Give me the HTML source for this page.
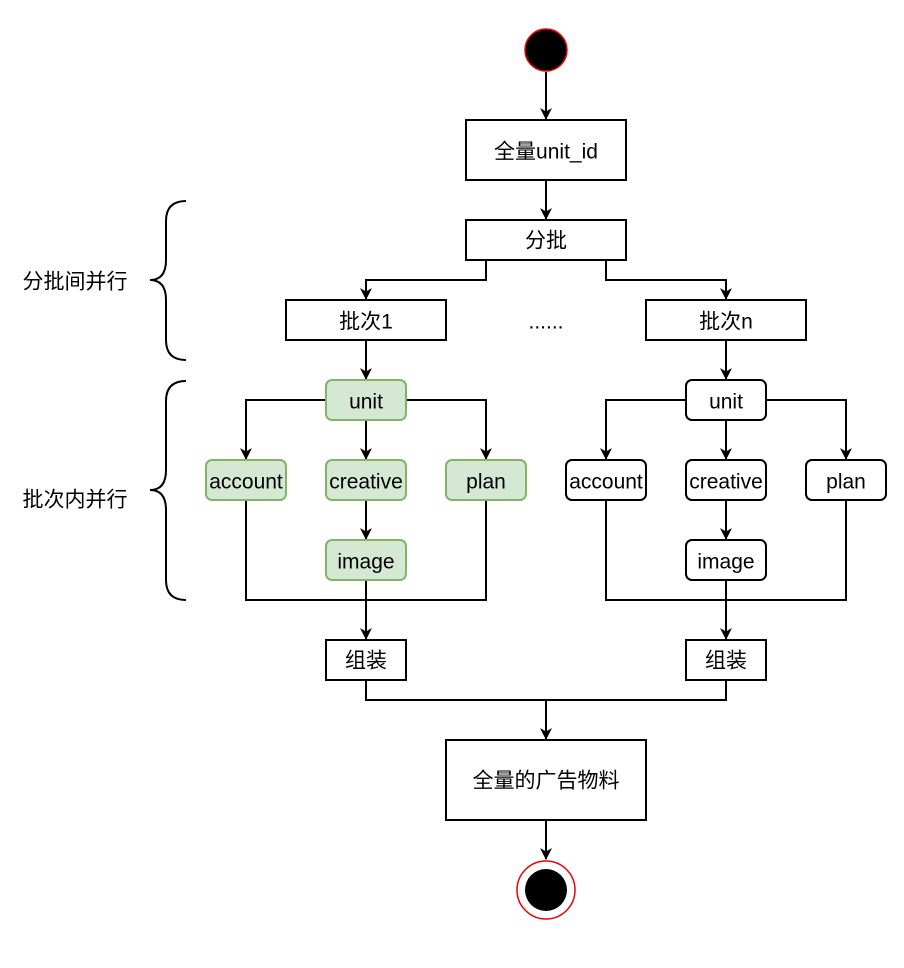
<!DOCTYPE html>
<html><head><meta charset="utf-8"><style>
html,body{margin:0;padding:0;background:#fff;}
svg{display:block;}
text{font-family:"Liberation Sans","Noto Sans CJK SC",sans-serif;font-size:21px;fill:#000;text-anchor:middle;dominant-baseline:central;}
</style></head><body>
<svg width="904" height="968" viewBox="0 0 904 968" xmlns="http://www.w3.org/2000/svg">
<defs><marker id="a" markerWidth="12" markerHeight="12" refX="11" refY="6" orient="auto" markerUnits="userSpaceOnUse" viewBox="0 0 12 12"><path d="M0,0 L12,6 L0,12 L3.5,6 Z" fill="#000"/></marker></defs>
<g stroke="#000" stroke-width="2" fill="none">
<circle cx="546" cy="50" r="21" fill="#000" stroke="#e00" stroke-width="1.5"/>
<line x1="546" y1="72" x2="546" y2="119" marker-end="url(#a)"/>
<rect x="466" y="120" width="160" height="60" fill="#fff"/>
<line x1="546" y1="180" x2="546" y2="219" marker-end="url(#a)"/>
<rect x="466" y="220" width="160" height="40" fill="#fff"/>
<polyline points="486,260 486,280 366,280 366,299" marker-end="url(#a)"/>
<polyline points="606,260 606,280 726,280 726,299" marker-end="url(#a)"/>
<rect x="286" y="300" width="160" height="40" fill="#fff"/>
<rect x="646" y="300" width="160" height="40" fill="#fff"/>
<path d="M186,201 Q166,201 166,221 L166,260 Q166,280 150,280 Q166,280 166,300 L166,340 Q166,360 186,360"/>
<path d="M186,381 Q166,381 166,401 L166,470 Q166,490 150,490 Q166,490 166,510 L166,580 Q166,600 186,600"/>
<g>
<line x1="366" y1="340" x2="366" y2="379" marker-end="url(#a)"/>
<polyline points="326,400 246,400 246,459" marker-end="url(#a)"/>
<polyline points="406,400 486,400 486,459" marker-end="url(#a)"/>
<line x1="366" y1="420" x2="366" y2="459" marker-end="url(#a)"/>
<line x1="366" y1="500" x2="366" y2="539" marker-end="url(#a)"/>
<polyline points="246,500 246,600 486,600 486,500"/>
<line x1="366" y1="580" x2="366" y2="639" marker-end="url(#a)"/>
<rect x="326" y="640" width="80" height="40" fill="#fff"/>
</g>
<g transform="translate(360,0)">
<line x1="366" y1="340" x2="366" y2="379" marker-end="url(#a)"/>
<polyline points="326,400 246,400 246,459" marker-end="url(#a)"/>
<polyline points="406,400 486,400 486,459" marker-end="url(#a)"/>
<line x1="366" y1="420" x2="366" y2="459" marker-end="url(#a)"/>
<line x1="366" y1="500" x2="366" y2="539" marker-end="url(#a)"/>
<polyline points="246,500 246,600 486,600 486,500"/>
<line x1="366" y1="580" x2="366" y2="639" marker-end="url(#a)"/>
<rect x="326" y="640" width="80" height="40" fill="#fff"/>
</g>
<g fill="#d5e8d4" stroke="#82b366">
<rect x="326" y="380" width="80" height="40" rx="6"/>
<rect x="206" y="460" width="80" height="40" rx="6"/>
<rect x="326" y="460" width="80" height="40" rx="6"/>
<rect x="446" y="460" width="80" height="40" rx="6"/>
<rect x="326" y="540" width="80" height="40" rx="6"/>
</g>
<g fill="#fff">
<rect x="686" y="380" width="80" height="40" rx="6"/>
<rect x="566" y="460" width="80" height="40" rx="6"/>
<rect x="686" y="460" width="80" height="40" rx="6"/>
<rect x="806" y="460" width="80" height="40" rx="6"/>
<rect x="686" y="540" width="80" height="40" rx="6"/>
</g>
<polyline points="366,680 366,700 726,700 726,680"/>
<line x1="546" y1="700" x2="546" y2="739" marker-end="url(#a)"/>
<rect x="446" y="740" width="200" height="80" fill="#fff"/>
<line x1="546" y1="820" x2="546" y2="859" marker-end="url(#a)"/>
<circle cx="546" cy="890" r="29" fill="#fff" stroke="#e00" stroke-width="1.5"/>
<circle cx="546" cy="890" r="21" fill="#000" stroke="none"/>
</g>
<text x="546" y="152">全量unit_id</text>
<text x="546" y="241">分批</text>
<text x="366" y="322">批次1</text>
<text x="726" y="322">批次n</text>
<text x="546" y="322">......</text>
<text x="75" y="282">分批间并行</text>
<text x="75" y="500">批次内并行</text>
<text x="366" y="402">unit</text>
<text x="246" y="482">account</text>
<text x="366" y="482">creative</text>
<text x="486" y="482">plan</text>
<text x="366" y="562">image</text>
<text x="366" y="661">组装</text>
<text x="726" y="402">unit</text>
<text x="606" y="482">account</text>
<text x="726" y="482">creative</text>
<text x="846" y="482">plan</text>
<text x="726" y="562">image</text>
<text x="726" y="661">组装</text>
<text x="546" y="781">全量的广告物料</text>
</svg>
</body></html>
